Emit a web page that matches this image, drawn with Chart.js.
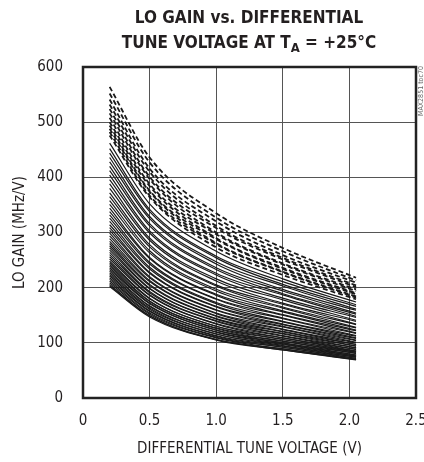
<!DOCTYPE html>
<html>
<head>
<meta charset="utf-8">
<style>
  body { margin: 0; background: #fff; }
  #wrap { width: 424px; height: 462px; }
</style>
</head>
<body>
<div id="wrap">
    <canvas id="myChart" width="424" height="462"></canvas>
</div>
<script src="https://cdn.jsdelivr.net/npm/chart.js"></script>
<script>
// x positions where the curves were read (V)
var voltages = [0.2, 0.5, 1.0, 1.5, 2.05];

// dashed curves, LO gain in MHz/V at each voltage
var dashedCurves = [
    [564, 436, 335, 272, 218],
    [552, 427, 327, 266, 213],
    [541, 416, 320, 259, 209],
    [532, 410, 312, 254, 204],
    [524, 401, 308, 251, 201],
    [516, 397, 300, 244, 197],
    [508, 388, 297, 242, 194],
    [500, 384, 290, 236, 190],
    [494, 376, 288, 234, 188],
    [488, 374, 281, 229, 184],
    [482, 367, 279, 228, 182],
    [476, 364, 273, 223, 179]
];

// solid curves
var solidCurves = [
    [462, 352, 266, 216, 174],
    [452, 342, 257, 211, 169],
    [444, 338, 254, 206, 166],
    [436, 329, 247, 203, 161],
    [428, 325, 243, 197, 159],
    [420, 316, 236, 194, 154],
    [412, 312, 233, 189, 152],
    [404, 303, 226, 187, 148],
    [396, 299, 223, 181, 146],
    [388, 290, 216, 178, 141],
    [380, 286, 212, 172, 139],
    [372, 278, 205, 170, 134],
    [365, 274, 203, 165, 133],
    [358, 267, 197, 163, 128],
    [351, 263, 194, 158, 127],
    [344, 255, 188, 156, 123],
    [338, 253, 186, 151, 122],
    [332, 246, 180, 150, 118],
    [326, 243, 179, 145, 117],
    [320, 237, 173, 144, 113],
    [314, 234, 171, 139, 112],
    [309, 228, 166, 138, 109],
    [304, 226, 165, 134, 108],
    [299, 220, 160, 133, 105],
    [294, 218, 159, 130, 104],
    [289, 213, 154, 129, 101],
    [284, 211, 153, 125, 100],
    [280, 206, 149, 124, 97],
    [276, 204, 148, 121, 97],
    [272, 199, 144, 120, 94],
    [268, 198, 143, 117, 94],
    [264, 193, 140, 116, 91],
    [260, 191, 139, 113, 91],
    [256, 187, 135, 112, 88],
    [252, 186, 134, 109, 88],
    [248, 181, 130, 109, 85],
    [245, 180, 130, 106, 85],
    [242, 176, 127, 106, 83],
    [239, 175, 126, 103, 83],
    [236, 172, 123, 103, 81],
    [233, 171, 123, 100, 81],
    [230, 167, 120, 100, 78],
    [227, 166, 119, 98, 78],
    [224, 163, 116, 97, 76],
    [221, 161, 116, 95, 76],
    [218, 158, 113, 94, 74],
    [215, 157, 112, 92, 74],
    [212, 154, 110, 92, 72],
    [209, 152, 109, 89, 72],
    [206, 149, 106, 89, 70],
    [204, 149, 106, 87, 70],
    [202, 147, 105, 87, 69]
];

var xTickLabels = ['0', '0.5', '1.0', '1.5', '2.0', '2.5'];
var yTickLabels = ['0', '100', '200', '300', '400', '500', '600'];

var FONT = "'Liberation Sans Narrow', 'DejaVu Sans Condensed', sans-serif";

function toPoints(vals) {
    var pts = [];
    for (var i = 0; i < vals.length; i++) {
        pts.push({ x: voltages[i], y: vals[i] });
    }
    return pts;
}

var datasets = [];
for (var i = 0; i < solidCurves.length; i++) {
    datasets.push({
        data: toPoints(solidCurves[i]),
        borderColor: '#1a1a1a',
        borderWidth: 1.2,
        pointRadius: 0,
        cubicInterpolationMode: 'monotone',
        fill: false
    });
}
for (var j = 0; j < dashedCurves.length; j++) {
    datasets.push({
        data: toPoints(dashedCurves[j]),
        borderColor: '#1a1a1a',
        borderWidth: 1.8,
        borderDash: [5, 3],
        pointRadius: 0,
        cubicInterpolationMode: 'monotone',
        fill: false
    });
}

// title, frame and side note
var decor = {
    id: 'decor',
    afterDraw: function(chart) {
        var ctx = chart.ctx;
        var a = chart.chartArea;
        ctx.save();
        ctx.strokeStyle = '#222';
        ctx.lineWidth = 2.5;
        ctx.strokeRect(a.left, a.top, a.right - a.left, a.bottom - a.top);

        ctx.fillStyle = '#231f20';
        ctx.textBaseline = 'middle';
        ctx.textAlign = 'left';
        var cx = 249;
        ctx.font = "bold 17px " + FONT;
        var l1 = 'LO GAIN vs. DIFFERENTIAL';
        ctx.fillText(l1, cx - ctx.measureText(l1).width / 2, 19);

        var p1 = 'TUNE VOLTAGE AT T', p2 = 'A', p3 = ' = +25\u00B0C';
        var w1 = ctx.measureText(p1).width;
        var w3 = ctx.measureText(p3).width;
        ctx.font = "bold 13px " + FONT;
        var w2 = ctx.measureText(p2).width;
        var x0 = cx - (w1 + w2 + w3) / 2;
        ctx.font = "bold 17px " + FONT;
        ctx.fillText(p1, x0, 44);
        ctx.font = "bold 13px " + FONT;
        ctx.fillText(p2, x0 + w1, 49);
        ctx.font = "bold 17px " + FONT;
        ctx.fillText(p3, x0 + w1 + w2, 44);

        ctx.translate(421, 91);
        ctx.rotate(-Math.PI / 2);
        ctx.textAlign = 'center';
        ctx.font = "7px " + FONT;
        ctx.fillStyle = '#666';
        ctx.fillText('MAX2851 toc70', 0, 0);
        ctx.restore();
    }
};

new Chart(document.getElementById('myChart'), {
    type: 'line',
    data: { datasets: datasets },
    options: {
        responsive: false,
        animation: false,
        events: [],
        layout: { padding: { top: 67, right: 8, left: 0, bottom: 0 } },
        plugins: {
            legend: { display: false },
            tooltip: { enabled: false }
        },
        scales: {
            x: {
                type: 'linear',
                min: 0,
                max: 2.5,
                afterFit: function(s) {
                    s.height = 64;
                    s.paddingLeft = 0;
                    s.paddingRight = 0;
                },
                afterBuildTicks: function(s) {
                    s.ticks = xTickLabels.map(function(t) { return { value: parseFloat(t) }; });
                },
                ticks: {
                    color: '#231f20',
                    font: { family: FONT, size: 15 },
                    padding: 14,
                    maxRotation: 0,
                    callback: function(v, idx) { return xTickLabels[idx]; }
                },
                grid: { color: '#555', lineWidth: 1, drawTicks: false },
                border: { display: false },
                title: {
                    display: true,
                    text: 'DIFFERENTIAL TUNE VOLTAGE (V)',
                    color: '#231f20',
                    font: { family: FONT, size: 15 },
                    padding: { top: 2, bottom: 4 }
                }
            },
            y: {
                min: 0,
                max: 600,
                afterFit: function(s) {
                    s.width = 83;
                    s.paddingTop = 0;
                    s.paddingBottom = 0;
                },
                afterBuildTicks: function(s) {
                    s.ticks = yTickLabels.map(function(t) { return { value: parseFloat(t) }; });
                },
                ticks: {
                    color: '#231f20',
                    font: { family: FONT, size: 15 },
                    padding: 20,
                    callback: function(v, idx) { return yTickLabels[idx]; }
                },
                grid: { color: '#555', lineWidth: 1, drawTicks: false },
                border: { display: false },
                title: {
                    display: true,
                    text: 'LO GAIN (MHz/V)',
                    color: '#231f20',
                    font: { family: FONT, size: 15 },
                    padding: { top: 11, bottom: 0 }
                }
            }
        }
    },
    plugins: [decor]
});
</script>
</body>
</html>
